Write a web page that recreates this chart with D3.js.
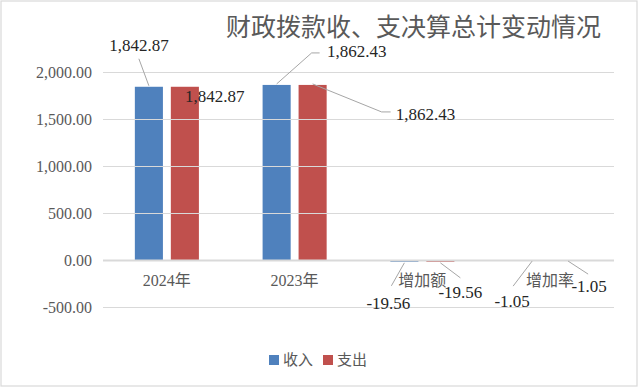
<!DOCTYPE html>
<html lang="zh-CN">
  <head>
    <meta charset="UTF-8" />
    <title>财政拨款收、支决算总计变动情况</title>
    <script src="https://d3js.org/d3.v7.min.js"></script>
    <style>
      body {
        margin: 0;
        padding: 0;
        background-color: #fff;
      }

      svg text {
        font-family: "Liberation Serif", "Times New Roman", "Noto Sans CJK SC", serif;
      }
    </style>
  </head>

  <body>
    <div id="chart"></div>

    <script>
      // data
      const categories = ["2024年", "2023年", "增加额", "增加率"];
      const seriesNames = ["收入", "支出"];
      const income = [1842.87, 1862.43, -19.56, -1.05];
      const expense = [1842.87, 1862.43, -19.56, -1.05];
      const yTicks = [-500, 0, 500, 1000, 1500, 2000];

      // label placement relative to the bar end (set by hand, like the original)
      // [labelDx, labelDy, leaderDx, leaderDy, hook]
      const labelPlace = {
        收入: [
          [-10, -40, -10, -27, 0],
          [80, -32, 35, -31, 8],
          [-16, 41, -13, 23, 0],
          [-20, 40, -19, 25, 0],
        ],
        支出: [
          [30, 11, null, null, 0],
          [113, 31, 69, 28, 9],
          [20, 30, 20, 15, 0],
          [21, 25, 20, 13, 0],
        ],
      };

      const W = 640,
        H = 389;
      const plot = { left: 103, right: 614, top: 72, bottom: 307 };

      const svg = d3
        .select("#chart")
        .append("svg")
        .attr("width", W)
        .attr("height", H);

      // chart border
      svg
        .append("rect")
        .attr("x", 1)
        .attr("y", 1)
        .attr("width", 636)
        .attr("height", 385)
        .attr("fill", "#fff")
        .attr("stroke", "#d9d9d9")
        .attr("stroke-width", 1.2);

      // title
      svg
        .append("text")
        .attr("x", 226)
        .attr("y", 27)
        .attr("dominant-baseline", "central")
        .attr("font-size", "25px")
        .attr("fill", "#595959")
        .text("财政拨款收、支决算总计变动情况");

      const x0 = d3
        .scaleBand()
        .domain(categories)
        .range([plot.left, plot.right])
        .padding(0);

      const x1 = d3
        .scaleBand()
        .domain(seriesNames)
        .range([0, x0.bandwidth()])
        .paddingInner(0.22)
        .paddingOuter(0.885);

      const y = d3
        .scaleLinear()
        .domain([-500, 2000])
        .range([plot.bottom, plot.top]);

      const color = d3
        .scaleOrdinal()
        .domain(seriesNames)
        .range(["#4f81bd", "#c0504d"]);

      // plain hyphen minus, as in the original
      const fmt = (v) => d3.format(",.2f")(v).replace("−", "-");

      // bars
      const barData = [];
      categories.forEach((c, i) => {
        barData.push({ cat: c, i: i, type: "收入", value: income[i] });
        barData.push({ cat: c, i: i, type: "支出", value: expense[i] });
      });

      svg
        .append("g")
        .selectAll("rect")
        .data(barData)
        .join("rect")
        .attr("x", (d) => x0(d.cat) + x1(d.type))
        .attr("width", x1.bandwidth())
        .attr("y", (d) => y(Math.max(0, d.value)))
        .attr("height", (d) => Math.abs(y(d.value) - y(0)))
        .attr("fill", (d) => color(d.type));

      // gridlines (drawn over the bars, the tiny negative ones sit under the axis)
      svg
        .append("g")
        .selectAll("line")
        .data(yTicks)
        .join("line")
        .attr("x1", plot.left)
        .attr("x2", plot.right)
        .attr("y1", (d) => Math.round(y(d)) + 0.5)
        .attr("y2", (d) => Math.round(y(d)) + 0.5)
        .attr("stroke", "#d9d9d9")
        .attr("stroke-width", (d) => (d === 0 ? 2 : 1));

      // y axis labels
      svg
        .append("g")
        .selectAll("text")
        .data(yTicks)
        .join("text")
        .attr("x", 92)
        .attr("y", (d) => y(d))
        .attr("dominant-baseline", "central")
        .attr("text-anchor", "end")
        .attr("font-size", "16px")
        .attr("fill", "#595959")
        .text((d) => fmt(d));

      // category labels
      svg
        .append("g")
        .selectAll("text")
        .data(categories)
        .join("text")
        .attr("x", (d) => x0(d) + x0.bandwidth() / 2)
        .attr("y", 280)
        .attr("dominant-baseline", "central")
        .attr("text-anchor", "middle")
        .attr("font-size", "16px")
        .attr("fill", "#595959")
        .text((d) => d);

      // data labels with leader lines
      const labels = svg.append("g");
      barData.forEach((d) => {
        const cx = x0(d.cat) + x1(d.type) + x1.bandwidth() / 2;
        const cy = y(d.value) + (d.value >= 0 ? -1 : 1);
        const p = labelPlace[d.type][d.i];
        if (p[2] !== null) {
          const pts = [
            [cx, cy],
            [cx + p[2], cy + p[3]],
          ];
          if (p[4]) pts.push([cx + p[2] + p[4], cy + p[3]]);
          labels
            .append("path")
            .attr("d", d3.line()(pts))
            .attr("fill", "none")
            .attr("stroke", "#a6a6a6")
            .attr("stroke-width", 1);
        }
        labels
          .append("text")
          .attr("x", cx + p[0])
          .attr("y", cy + p[1])
          .attr("dominant-baseline", "central")
          .attr("text-anchor", "middle")
          .attr("font-size", "17px")
          .attr("fill", "#262626")
          .text(fmt(d.value));
      });

      // legend
      const legendX = [269, 323];
      const legend = svg.append("g");
      seriesNames.forEach((s, i) => {
        legend
          .append("rect")
          .attr("x", legendX[i])
          .attr("y", 355)
          .attr("width", 10)
          .attr("height", 10)
          .attr("fill", color(s));
        legend
          .append("text")
          .attr("x", legendX[i] + 14)
          .attr("y", 360)
          .attr("dominant-baseline", "central")
          .attr("font-size", "15px")
          .attr("fill", "#595959")
          .text(s);
      });
    </script>
  </body>
</html>
